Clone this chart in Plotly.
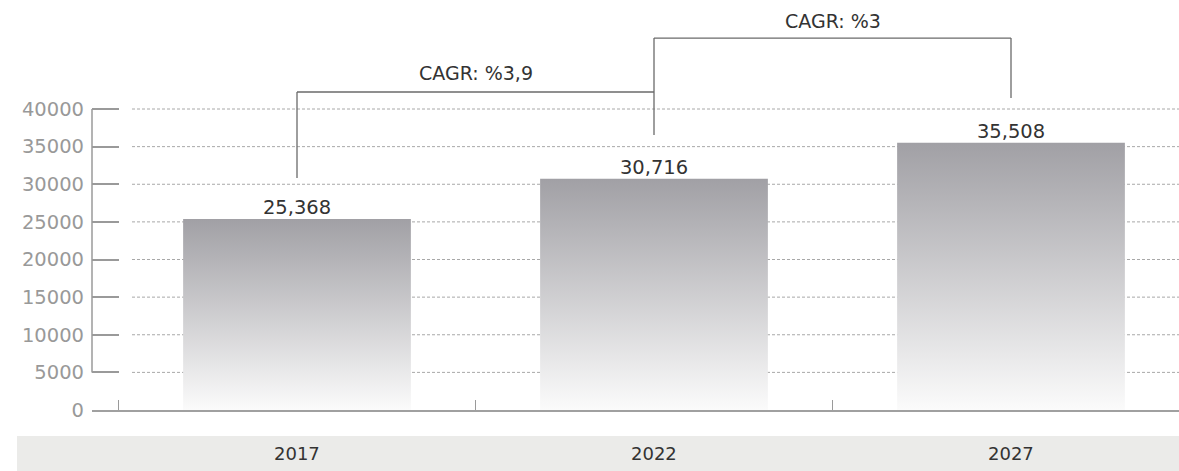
import plotly.graph_objects as go

# data
years = ["2017", "2022", "2027"]
values = [25368, 30716, 35508]
cagr_labels = ["CAGR: %3,9", "CAGR: %3"]
y_ticks = [0, 5000, 10000, 15000, 20000, 25000, 30000, 35000, 40000]

FONT = "DejaVu Sans"
W, H = 1179, 471
ML, MB = 92, 61
PW, PH = W - ML, H - MB

# pixel layout of the reference: category centres every 357px, first at 297
x_range = [(ML - 297) / 357, (W - 297) / 357]
y_top = PH / ((PH - 109) / 40000)
half = 0.319

fig = go.Figure()

# bars with vertical grey -> white fade
for i, v in enumerate(values):
    fig.add_trace(go.Scatter(
        x=[i - half, i - half, i + half, i + half, i - half],
        y=[0, v, v, 0, 0],
        mode="lines", fill="toself", line=dict(width=0),
        fillgradient=dict(type="vertical", start=0, stop=v,
                          colorscale=[[0, "#fbfbfb"], [1, "#a1a0a5"]]),
        hoverinfo="skip", showlegend=False))

fig.add_trace(go.Scatter(
    x=list(range(len(values))), y=values, mode="text",
    text=[f"{v:,}" for v in values], textposition="top center",
    textfont=dict(family=FONT, size=19.5, color="#333333"),
    showlegend=False, hoverinfo="skip"))

shapes = []
# dotted gridlines starting a bit right of the tick marks
for t in y_ticks[1:]:
    shapes.append(dict(type="line", xref="paper", yref="y",
                       x0=40 / PW, x1=1, y0=t, y1=t, layer="below",
                       line=dict(color="#a8a8a8", width=1, dash="3px,2px")))
# y axis spine (stops at the first tick above zero)
shapes.append(dict(type="line", xref="paper", yref="y", x0=0, x1=0,
                   y0=y_ticks[1], y1=y_ticks[-1],
                   line=dict(color="#9a9a9a", width=1.5)))
# grey band behind the year labels
shapes.append(dict(type="rect", xref="paper", yref="paper",
                   x0=(17 - ML) / PW, x1=1, y0=-MB / PH, y1=-26 / PH,
                   fillcolor="#ebebe9", line=dict(width=0), layer="below"))

# CAGR brackets
leg_2017, top_1, leg_2022, top_2, leg_2027 = 30830, 42260, 36540, 49430, 41460
bracket = dict(color="#6a6a6a", width=1.3)
for x0, y0, x1, y1 in [(0, leg_2017, 0, top_1), (0, top_1, 1, top_1),
                       (1, leg_2022, 1, top_2), (1, top_2, 2, top_2),
                       (2, top_2, 2, leg_2027)]:
    shapes.append(dict(type="line", xref="x", yref="y",
                       x0=x0, y0=y0, x1=x1, y1=y1, line=bracket))

annotations = []
for xi, yi, txt in [(0.5, 44780, cagr_labels[0]), (1.5, 51690, cagr_labels[1])]:
    annotations.append(dict(x=xi, y=yi, xref="x", yref="y", text=txt,
                            showarrow=False, yanchor="middle",
                            font=dict(family=FONT, size=19, color="#333333")))
for i, yr in enumerate(years):
    annotations.append(dict(x=i, y=-43.5 / PH, xref="x", yref="paper",
                            text=yr, showarrow=False, yanchor="middle",
                            font=dict(family=FONT, size=18, color="#333333")))

fig.update_layout(
    width=W, height=H,
    margin=dict(l=ML, r=0, t=0, b=MB),
    paper_bgcolor="white", plot_bgcolor="white",
    shapes=shapes, annotations=annotations,
    xaxis=dict(range=x_range, showgrid=False, zeroline=False,
               showline=True, linecolor="#a0a0a0", linewidth=1.5,
               tickvals=[-0.5, 0.5, 1.5], ticks="inside", ticklen=10,
               tickcolor="#9a9a9a", showticklabels=False, fixedrange=True),
    yaxis=dict(range=[0, y_top], tickvals=y_ticks, tickformat="d",
               showgrid=False, zeroline=False, showline=False,
               ticks="inside", ticklen=27, tickwidth=1.5,
               tickcolor="#9a9a9a", ticklabelstandoff=7,
               tickfont=dict(family=FONT, size=19.5, color="#999999"),
               fixedrange=True),
)

fig.write_html("out.html", config={"displayModeBar": False},
               post_script="document.body.style.margin='0';")
